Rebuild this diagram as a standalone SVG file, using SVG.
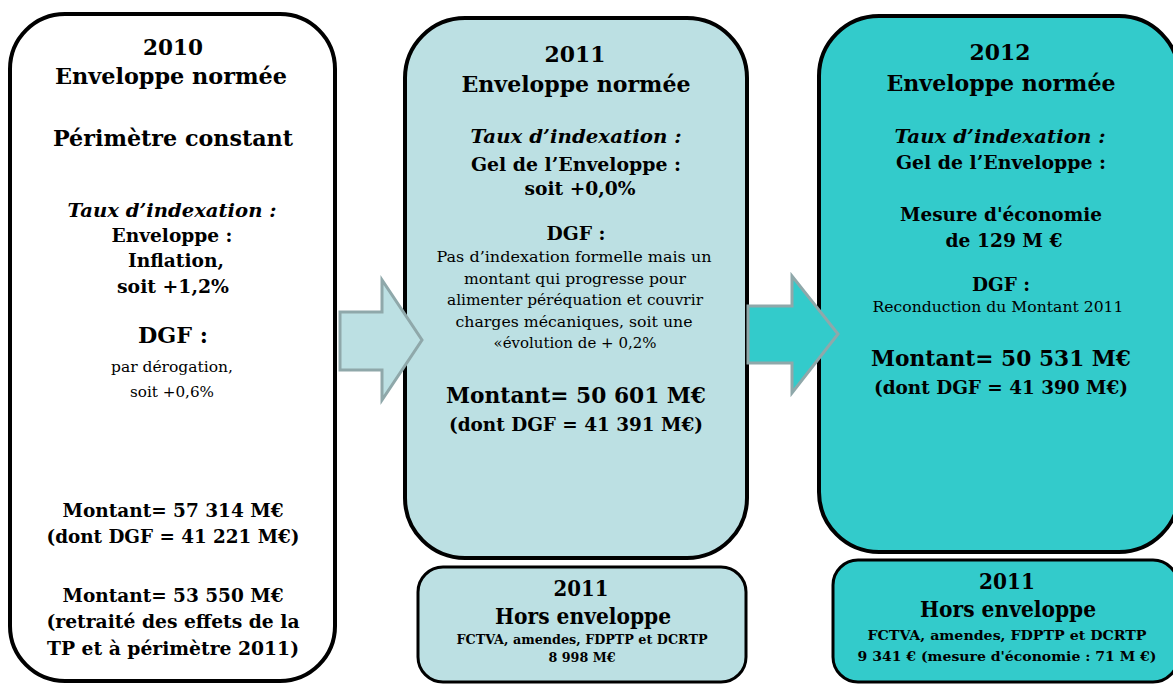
<svg xmlns="http://www.w3.org/2000/svg" width="1173" height="684" viewBox="0 0 1173 684">
<style>
text{font-family:"DejaVu Serif","Liberation Serif",serif;fill:#000;text-anchor:middle}
.b{font-weight:bold}
.bi{font-weight:bold;font-style:italic}
.h{font-size:21.5px;font-weight:bold}
.m{font-size:18px;font-weight:bold}
.r{font-size:14.5px}
.s{font-size:12px;font-weight:bold}
.box{stroke:#000;stroke-width:4}
.arrow{stroke:#8fa8aa;stroke-width:3}
</style>
<g id="box2010">
<rect class="box" x="10" y="14" width="325" height="667" rx="55" fill="#ffffff"/>
<text class="h" x="173" y="55" textLength="60" lengthAdjust="spacingAndGlyphs">2010</text>
<text class="h" x="171" y="84" textLength="232" lengthAdjust="spacingAndGlyphs">Enveloppe normée</text>
<text class="h" x="173" y="146" textLength="240" lengthAdjust="spacingAndGlyphs">Périmètre constant</text>
<text class="bi" font-size="18.5" x="172" y="217" textLength="209" lengthAdjust="spacingAndGlyphs">Taux d’indexation :</text>
<text class="m" x="172" y="242" textLength="121" lengthAdjust="spacingAndGlyphs">Enveloppe :</text>
<text class="m" x="176" y="267" textLength="96" lengthAdjust="spacingAndGlyphs">Inflation,</text>
<text class="m" x="173" y="293" textLength="112" lengthAdjust="spacingAndGlyphs">soit +1,2%</text>
<text class="b" font-size="22" x="173" y="343" textLength="70" lengthAdjust="spacingAndGlyphs">DGF :</text>
<text class="r" x="172" y="372" textLength="122" lengthAdjust="spacingAndGlyphs">par dérogation,</text>
<text class="r" x="172" y="397" textLength="84" lengthAdjust="spacingAndGlyphs">soit +0,6%</text>
<text class="m" x="173" y="517" textLength="221" lengthAdjust="spacingAndGlyphs">Montant= 57 314 M€</text>
<text class="m" x="173" y="543" textLength="253" lengthAdjust="spacingAndGlyphs">(dont DGF = 41 221 M€)</text>
<text class="m" x="173" y="602" textLength="221" lengthAdjust="spacingAndGlyphs">Montant= 53 550 M€</text>
<text class="m" x="173" y="628" textLength="253" lengthAdjust="spacingAndGlyphs">(retraité des effets de la</text>
<text class="m" x="173" y="655" textLength="252" lengthAdjust="spacingAndGlyphs">TP et à périmètre 2011)</text>
</g>
<g id="box2011">
<rect class="box" x="405" y="18" width="342" height="540" rx="60" fill="#bce0e3"/>
<text class="h" x="575" y="62" textLength="61" lengthAdjust="spacingAndGlyphs">2011</text>
<text class="h" x="576" y="92" textLength="229" lengthAdjust="spacingAndGlyphs">Enveloppe normée</text>
<text class="bi" font-size="18.5" x="576" y="143" textLength="211" lengthAdjust="spacingAndGlyphs">Taux d’indexation :</text>
<text class="m" x="576" y="171" textLength="210" lengthAdjust="spacingAndGlyphs">Gel de l’Enveloppe :</text>
<text class="m" x="580" y="195" textLength="111" lengthAdjust="spacingAndGlyphs">soit +0,0%</text>
<text class="b" font-size="19" x="576" y="240" textLength="59" lengthAdjust="spacingAndGlyphs">DGF :</text>
<text class="r" x="574" y="262" textLength="275" lengthAdjust="spacingAndGlyphs">Pas d’indexation formelle mais un</text>
<text class="r" x="575" y="284" textLength="222" lengthAdjust="spacingAndGlyphs">montant qui progresse pour</text>
<text class="r" x="575" y="305" textLength="256" lengthAdjust="spacingAndGlyphs">alimenter péréquation et couvrir</text>
<text class="r" x="574" y="327" textLength="237" lengthAdjust="spacingAndGlyphs">charges mécaniques, soit une</text>
<text class="r" x="575" y="348" textLength="163" lengthAdjust="spacingAndGlyphs">«évolution de + 0,2%</text>
<text class="b" font-size="22" x="576" y="403" textLength="260" lengthAdjust="spacingAndGlyphs">Montant= 50 601 M€</text>
<text class="m" x="576" y="431" textLength="254" lengthAdjust="spacingAndGlyphs">(dont DGF = 41 391 M€)</text>
</g>
<g id="box2011hors">
<rect x="418" y="567" width="328" height="115" rx="25" fill="#bce0e3" stroke="#000" stroke-width="3"/>
<text class="h" font-size="20" x="581" y="596" textLength="55" lengthAdjust="spacingAndGlyphs">2011</text>
<text class="h" font-size="20" x="583" y="624" textLength="176" lengthAdjust="spacingAndGlyphs">Hors enveloppe</text>
<text class="s" x="582" y="644" textLength="251" lengthAdjust="spacingAndGlyphs">FCTVA, amendes, FDPTP et DCRTP</text>
<text class="s" x="582" y="662" textLength="67" lengthAdjust="spacingAndGlyphs">8 998 M€</text>
</g>
<g id="box2012">
<rect class="box" x="819" y="16" width="360" height="536" rx="60" fill="#33cbcb"/>
<text class="h" x="1000" y="60" textLength="61" lengthAdjust="spacingAndGlyphs">2012</text>
<text class="h" x="1001" y="91" textLength="229" lengthAdjust="spacingAndGlyphs">Enveloppe normée</text>
<text class="bi" font-size="18.5" x="1000" y="143" textLength="211" lengthAdjust="spacingAndGlyphs">Taux d’indexation :</text>
<text class="m" x="1001" y="169" textLength="210" lengthAdjust="spacingAndGlyphs">Gel de l’Enveloppe :</text>
<text class="m" x="1001" y="221" textLength="202" lengthAdjust="spacingAndGlyphs">Mesure d'économie</text>
<text class="m" x="1004" y="247" textLength="117" lengthAdjust="spacingAndGlyphs">de 129 M €</text>
<text class="b" font-size="19" x="1001" y="291" textLength="58" lengthAdjust="spacingAndGlyphs">DGF :</text>
<text class="r" x="998" y="312" textLength="251" lengthAdjust="spacingAndGlyphs">Reconduction du Montant 2011</text>
<text class="b" font-size="22" x="1001" y="366" textLength="260" lengthAdjust="spacingAndGlyphs">Montant= 50 531 M€</text>
<text class="m" x="1001" y="394" textLength="254" lengthAdjust="spacingAndGlyphs">(dont DGF = 41 390 M€)</text>
</g>
<g id="box2012hors">
<rect x="833" y="560" width="345" height="122" rx="25" fill="#33cbcb" stroke="#000" stroke-width="3"/>
<text class="h" font-size="20" x="1007" y="589" textLength="56" lengthAdjust="spacingAndGlyphs">2011</text>
<text class="h" font-size="20" x="1008" y="617" textLength="176" lengthAdjust="spacingAndGlyphs">Hors enveloppe</text>
<text class="s" font-size="13" x="1007" y="640" textLength="279" lengthAdjust="spacingAndGlyphs">FCTVA, amendes, FDPTP et DCRTP</text>
<text class="s" font-size="13" x="1007" y="661" textLength="299" lengthAdjust="spacingAndGlyphs">9 341 € (mesure d'économie : 71 M €)</text>
</g>
<g id="connectors">
<polygon class="arrow" fill="#bce0e3" points="340,312 382,312 382,280 422,340 382,400 382,370 340,370"/>
<polygon class="arrow" fill="#33cbcb" points="748,306 792,306 792,276 838,334 792,393 792,363 748,363"/>
</g>
</svg>
